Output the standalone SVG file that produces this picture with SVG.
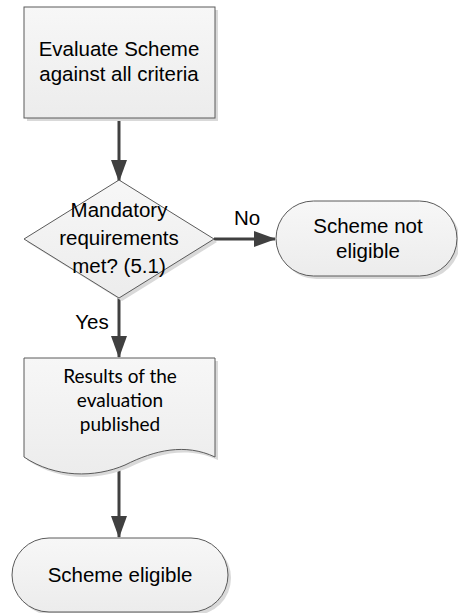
<svg xmlns="http://www.w3.org/2000/svg" width="458" height="613" viewBox="0 0 458 613">
<defs>
<linearGradient id="g" x1="0" y1="0" x2="0" y2="1">
<stop offset="0" stop-color="#f7f7f7"/>
<stop offset="1" stop-color="#ececec"/>
</linearGradient>
<marker id="ah" markerWidth="22" markerHeight="16" refX="21" refY="8" orient="auto" markerUnits="userSpaceOnUse" viewBox="0 0 22 16">
<path d="M0,0 L22,8 L0,16 Z" fill="#404040"/>
</marker>
</defs>
<style>
.shape{fill:url(#g);stroke:#5a5a5a;stroke-width:1}
.shadow{fill:#d9d9d9;stroke:none}
.t{font-family:'Liberation Sans',Arial,sans-serif;font-size:20.5px;fill:#000;text-anchor:middle}
.c{font-family:Lato,'Open Sans',sans-serif;font-size:19px;fill:#000;text-anchor:middle}
.conn{stroke:#404040;stroke-width:3;fill:none}
</style>
<rect width="458" height="613" fill="#fff"/>
<g id="connectors">
<line class="conn" x1="119" y1="118" x2="119" y2="181" marker-end="url(#ah)"/>
<line class="conn" x1="214" y1="239" x2="275" y2="239" marker-end="url(#ah)"/>
<line class="conn" x1="119" y1="298" x2="119" y2="357" marker-end="url(#ah)"/>
<line class="conn" x1="119" y1="466" x2="119" y2="537" marker-end="url(#ah)"/>
<text class="t" x="247" y="225">No</text>
<text class="t" x="92" y="329">Yes</text>
</g>
<g id="evaluate">
<rect class="shadow" x="27" y="10" width="191" height="111"/>
<rect class="shape" x="24" y="7" width="191" height="111"/>
<text class="t" x="119" y="56">Evaluate Scheme</text>
<text class="t" x="119" y="81">against all criteria</text>
</g>
<g id="decision">
<polygon class="shadow" points="122,183 217,242 122,301 27,242"/>
<polygon class="shape" points="119,180 214,239 119,298 24,239"/>
<text class="t" x="119" y="217">Mandatory</text>
<text class="t" x="119" y="245">requirements</text>
<text class="t" x="119" y="273">met? (5.1)</text>
</g>
<g id="not-eligible">
<rect class="shadow" x="279" y="204" width="181" height="75" rx="37.5"/>
<rect class="shape" x="276" y="201" width="181" height="75" rx="37.5"/>
<text class="t" x="368" y="233">Scheme not</text>
<text class="t" x="368" y="258">eligible</text>
</g>
<g id="results">
<path class="shadow" d="M27,361 H218 V460 C188,446 158,453 128,468 C98,481 58,481 27,460 Z"/>
<path class="shape" d="M24,358 H215 V457 C185,443 155,450 125,465 C95,478 55,478 24,457 Z"/>
<text class="c" x="120" y="383">Results of the</text>
<text class="c" x="120" y="407">evaluation</text>
<text class="c" x="120" y="431">published</text>
</g>
<g id="eligible">
<rect class="shadow" x="15" y="541" width="216" height="74" rx="37"/>
<rect class="shape" x="12" y="538" width="216" height="74" rx="37"/>
<text class="t" x="120" y="582">Scheme eligible</text>
</g>
</svg>
